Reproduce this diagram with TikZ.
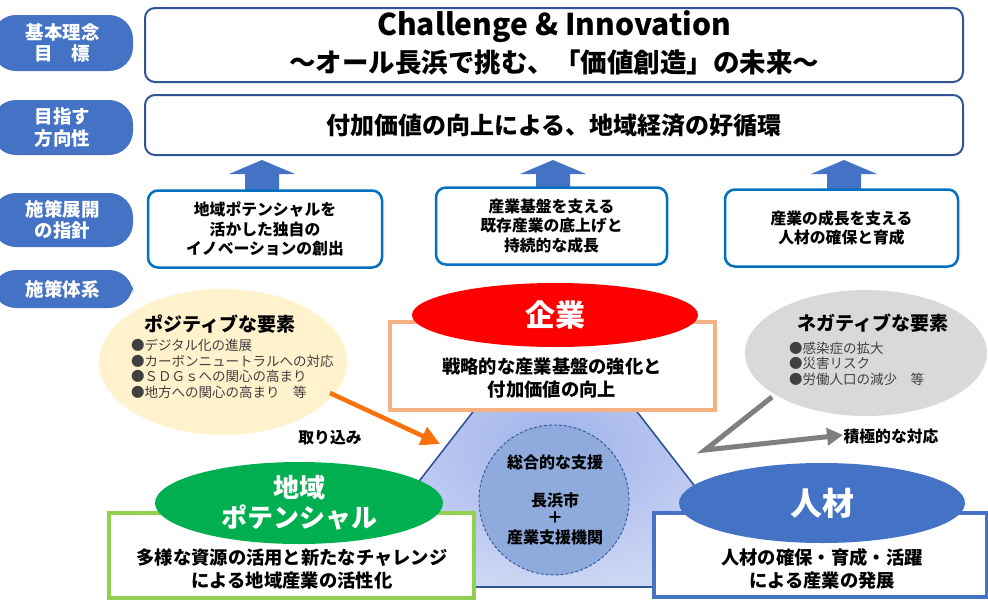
\documentclass[tikz,border=0pt]{standalone}
\usepackage{fontspec}
\setmainfont{Noto Sans CJK JP}
\usetikzlibrary{shapes.geometric,arrows.meta}
\newcommand\fsz[2]{\fontsize{#1pt}{#2pt}\selectfont}
\definecolor{lblue}{HTML}{4472C4}
\definecolor{dblue}{HTML}{2F5597}
\definecolor{sblue}{HTML}{0070C0}
\definecolor{posfill}{HTML}{FFF2CC}
\definecolor{negfill}{HTML}{D9D9D9}
\definecolor{oarrow}{RGB}{250,112,10}
\definecolor{obord}{HTML}{F4B183}
\definecolor{gfill}{HTML}{00B050}
\definecolor{gbord}{HTML}{92D050}
\definecolor{garrow}{HTML}{7F7F7F}
\definecolor{circfill}{HTML}{8FAADC}
\definecolor{bultext}{HTML}{404040}
\definecolor{trin}{HTML}{9FB2EA}
\definecolor{trout}{HTML}{CDD6F4}
\tikzset{
  every node/.style={inner sep=0pt,outer sep=0pt},
  lbl/.style={fill=lblue,rounded corners=24pt,minimum width=141pt,text=white,align=center,font=\fsz{18.5}{21.5}\bfseries},
  topbox/.style={draw=dblue,line width=2pt,rounded corners=10pt,fill=white,minimum width=818pt},
  stratbox/.style={draw=sblue,line width=2.5pt,rounded corners=10pt,fill=white,minimum height=77pt,align=center,font=\fsz{15.8}{19.5}\bfseries},
  blockarrow/.style={fill=lblue},
  bigtxt/.style={align=center,font=\fsz{18.3}{23}\bfseries},
  bultxt/.style={align=left,anchor=north west,text=bultext,font=\fsz{13.5}{15.5}},
  ttl/.style={font=\fsz{19}{22}\bfseries},
  small/.style={font=\fsz{15.8}{18}\bfseries},
  sysbox/.style={fill=white,line width=4pt},
  oval/.style={ellipse,text=white,align=center,font=\bfseries}
}
\begin{document}
\begin{tikzpicture}[x=1pt,y=-1pt]
\useasboundingbox (0,0) rectangle (988,605);
\clip (0,0) rectangle (988,605);

% left labels
\node[lbl,minimum height=56pt] (l1) at (62.5,43) {基本理念\\目　標};
\node[lbl,minimum height=55pt] (l2) at (62.5,127.5) {目指す\\方向性};
\node[lbl,minimum height=54pt] (l3) at (62.5,220) {施策展開\\の指針};
\node[lbl,minimum height=38pt] (l4) at (62.5,289) {施策体系};

% top boxes
\node[topbox,minimum height=74pt] (top) at (554,45) {};
\node[font=\fsz{30}{34}\bfseries] (t1) at (554,27) {Challenge \& Innovation};
\node[font=\fsz{26.5}{30}\bfseries] (t2) at (554,62) {～オール長浜で挑む、「価値創造」の未来～};
\node[topbox,minimum height=60pt,font=\fsz{24}{28}\bfseries] (dir) at (554,125) {付加価値の向上による、地域経済の好循環};

% block arrows
\foreach \ax in {262,553,844}{
  \fill[blockarrow] (\ax,160) -- (\ax+33,174) -- (\ax+17,174) -- (\ax+17,191) -- (\ax-17,191) -- (\ax-17,174) -- (\ax-33,174) -- cycle;
}

% strategy boxes
\node[stratbox,minimum width=234pt] (s1) at (265,229) {地域ポテンシャルを\\活かした独自の\\イノベーションの創出};
\node[stratbox,minimum width=231pt] (s2) at (551.5,226) {産業基盤を支える\\既存産業の底上げと\\持続的な成長};
\node[stratbox,minimum width=233pt] (s3) at (841.5,228) {産業の成長を支える\\人材の確保と育成};

% central trapezoid
\shade[inner color=trin,outer color=trout,draw=dblue,line width=1.6pt] (555,306) -- (337,587) -- (773,587) -- cycle;
\node[circle,fill=circfill,draw=dblue,line width=0.9pt,dash pattern=on 3pt off 2pt,minimum size=150pt] (sup) at (554,500) {};
\node[small,font=\fsz{16}{18}\bfseries] (c1) at (555,462) {総合的な支援};
\node[small,font=\fsz{16}{18}\bfseries] (c2) at (555,500) {長浜市};
\node[small,font=\fsz{16}{18}\bfseries] (c3) at (555,518) {＋};
\node[small,font=\fsz{16}{18}\bfseries] (c4) at (555,537) {産業支援機関};

% positive
\node[ellipse,fill=posfill,minimum width=248pt,minimum height=146pt] (pos) at (223,362) {};
\node[ttl] (post) at (220,324) {ポジティブな要素};
\node[bultxt] (posb) at (131,339) {●デジタル化の進展\\●カーボンニュートラルへの対応\\●ＳＤＧｓへの関心の高まり\\●地方への関心の高まり　等};
\coordinate (oa1) at (330,393);
\coordinate (oa2) at (440,444);
\draw[oarrow,line width=4.5pt,-{Triangle[length=19pt,width=19pt]}] (oa1) -- (oa2);
\node[small] (tori) at (330,438) {取り込み};

% negative
\node[ellipse,fill=negfill,minimum width=242pt,minimum height=126pt] (neg) at (866,353) {};
\node[ttl] (negt) at (873,323) {ネガティブな要素};
\node[bultxt] (negb) at (789,342) {●感染症の拡大\\●災害リスク\\●労働人口の減少　等};
\coordinate (ga1) at (772,397);
\coordinate (ga2) at (705,450);
\coordinate (ga3) at (843,435);
\draw[garrow,line width=5pt,line join=miter,-{Triangle[length=16pt,width=17pt]}] (ga1) -- (ga2) -- (ga3);
\node[small] (seki) at (891,437) {積極的な対応};

% enterprise
\node[draw=obord,sysbox,minimum width=325pt,minimum height=88pt] (ebox) at (552.5,366) {};
\node[oval,fill=red,minimum width=286pt,minimum height=64pt,font=\fsz{30}{32}\bfseries] (ent) at (555,315) {企業};
\node[bigtxt] (etxt) at (552,378) {戦略的な産業基盤の強化と\\付加価値の向上};

% regional
\node[draw=gbord,sysbox,minimum width=365pt,minimum height=85pt] (gbox) at (291.5,555.5) {};
\node[oval,fill=gfill,minimum width=288pt,minimum height=82pt,font=\fsz{26}{30}\bfseries] (gel) at (299,503) {地域\\ポテンシャル};
\node[bigtxt] (gtxt) at (292,569) {多様な資源の活用と新たなチャレンジ\\による地域産業の活性化};

% human resources
\node[draw=lblue,sysbox,minimum width=333pt,minimum height=84pt] (bbox) at (820.5,555) {};
\node[oval,fill=lblue,minimum width=286pt,minimum height=80pt,font=\fsz{32}{34}\bfseries] (bel) at (822,503) {人材};
\node[bigtxt] (btxt) at (822,569) {人材の確保・育成・活躍\\による産業の発展};
\end{tikzpicture}
\end{document}
